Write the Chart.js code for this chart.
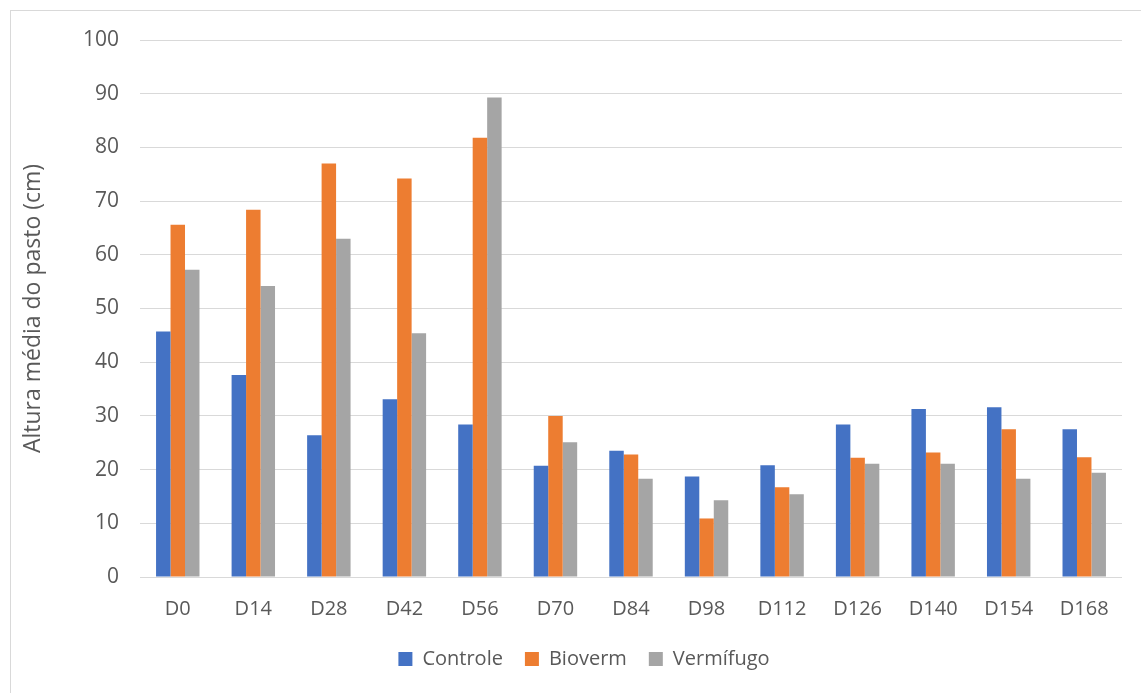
<!DOCTYPE html>
<html>
<head>
<meta charset="utf-8">
<title>Altura média do pasto</title>
<script src="https://cdn.jsdelivr.net/npm/chart.js@4.4.1/dist/chart.umd.min.js"></script>
<style>
    html, body { margin: 0; padding: 0; background: #ffffff; }
    #wrap { position: relative; width: 1141px; height: 693px; }
</style>
</head>
<body>
<div id="wrap"><canvas id="alturaChart"></canvas></div>
<script>
    // Dias de avaliação
    const dias = ['D0', 'D14', 'D28', 'D42', 'D56', 'D70', 'D84', 'D98', 'D112', 'D126', 'D140', 'D154', 'D168'];

    // Altura média do pasto (cm) por tratamento
    const controle  = [45.7, 37.6, 26.4, 33.1, 28.4, 20.7, 23.5, 18.7, 20.8, 28.4, 31.3, 31.6, 27.5];
    const bioverm   = [65.6, 68.4, 77.0, 74.2, 81.8, 30.0, 22.8, 10.9, 16.7, 22.2, 23.2, 27.5, 22.3];
    const vermifugo = [57.2, 54.2, 63.0, 45.4, 89.3, 25.1, 18.3, 14.3, 15.4, 21.1, 21.1, 18.3, 19.4];

    const eixoY = [0, 100, 10];

    const corTexto = '#595959';
    const familia = "'Open Sans', sans-serif";
    const fonte = { family: familia, size: 20 };

    // moldura cinza em volta do gráfico
    const moldura = {
        id: 'moldura',
        beforeDraw: function(chart) {
            const ctx = chart.ctx;
            ctx.save();
            ctx.strokeStyle = '#d9d9d9';
            ctx.lineWidth = 1;
            ctx.strokeRect(10.5, 10.5, chart.width, chart.height);
            ctx.restore();
        }
    };

    // legenda um pouco deslocada para a direita
    const legendaDesloc = {
        id: 'legendaDesloc',
        afterLayout: function(chart) {
            if (!chart.legend) return;
            chart.legend.left += 13;
            chart.legend.right += 13;
        }
    };

    new Chart(document.getElementById('alturaChart'), {
        type: 'bar',
        data: {
            labels: dias,
            datasets: [
                { label: 'Controle',  data: controle,  backgroundColor: '#4472C4' },
                { label: 'Bioverm',   data: bioverm,   backgroundColor: '#ED7D31' },
                { label: 'Vermífugo', data: vermifugo, backgroundColor: '#A5A5A5' }
            ]
        },
        options: {
            responsive: true,
            maintainAspectRatio: false,
            animation: false,
            layout: { padding: { left: 20, right: 19, top: 40, bottom: 14 } },
            datasets: {
                bar: { categoryPercentage: 0.575, barPercentage: 1.0, borderWidth: 0 }
            },
            scales: {
                x: {
                    grid: { display: false },
                    border: { display: false },
                    ticks: { color: corTexto, font: fonte, padding: 12, maxRotation: 0 },
                    afterFit: function(scale) { scale.height = 50; }
                },
                y: {
                    min: eixoY[0],
                    max: eixoY[1],
                    ticks: { stepSize: eixoY[2], color: corTexto, font: { family: familia, size: 21 }, padding: 21 },
                    grid: { color: '#d9d9d9', lineWidth: 1, drawTicks: false },
                    border: { display: false },
                    title: {
                        display: true,
                        text: 'Altura média do pasto (cm)',
                        color: corTexto,
                        font: { family: familia, size: 23 },
                        padding: { top: 0, bottom: 0 }
                    },
                    afterFit: function(scale) { scale.width = 120; }
                }
            },
            plugins: {
                legend: {
                    position: 'bottom',
                    labels: {
                        color: corTexto,
                        font: fonte,
                        boxWidth: 14,
                        boxHeight: 14,
                        padding: 22
                    }
                },
                tooltip: { enabled: false }
            }
        },
        plugins: [moldura, legendaDesloc]
    });
</script>
</body>
</html>
